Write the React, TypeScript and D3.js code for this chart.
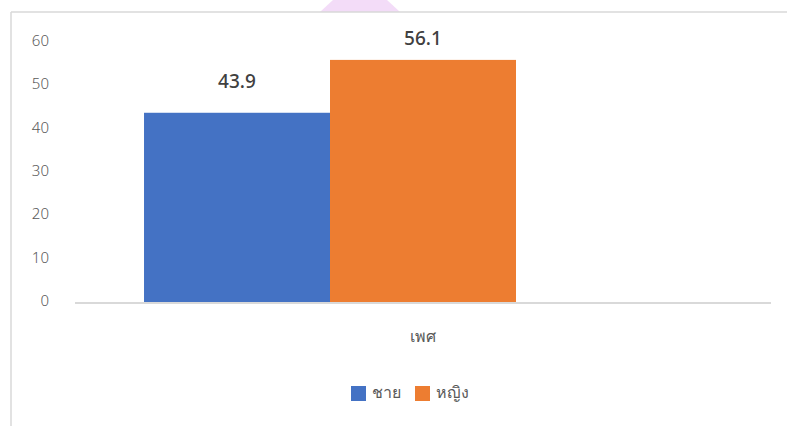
import React from 'react'
import * as d3 from 'd3'

// data
const categories = ['เพศ']
const seriesNames = ['ชาย', 'หญิง', '']
const seriesValues = [43.9, 56.1, null]
const seriesColors = ['#4472c4', '#ed7d31', '#a5a5a5']
const yTicks = [0, 10, 20, 30, 40, 50, 60]

const W = 787
const H = 426
const plot = {left: 75, right: 771, top: 43, bottom: 303}
const font = "'Noto Sans', 'DejaVu Sans', sans-serif"

export default function App() {
  const y = d3.scaleLinear().domain([0, 60]).range([plot.bottom, plot.top])
  const x0 = d3.scaleBand().domain(categories).range([plot.left, plot.right]).paddingInner(0).paddingOuter(0.1237)
  const x1 = d3.scaleBand().domain(seriesNames.map((d, i) => String(i))).range([0, x0.bandwidth()])

  const legendItems = seriesNames.filter(n => n !== '')
  const legendX = [351, 415]

  // outside-end label, pushed down when it would leave the chart top
  const labelY = (v: number) => Math.max(y(v) - 25, 45)

  return (
    <svg width={W} height={H} style={{position: 'absolute', left: 0, top: 0, background: '#fff'}}>
      {/* decoration peeking above the frame */}
      <path d="M333,0 L387,0 L400,12 L320,12 Z" fill="#f3dcf8" />
      {/* chart frame */}
      <line x1={11} x2={W} y1={12} y2={12} stroke="#d9d9d9" strokeWidth={1.5} />
      <line x1={11} x2={11} y1={12} y2={H} stroke="#d9d9d9" strokeWidth={1.5} />

      {/* y tick labels */}
      {yTicks.map(t => (
        <text key={t} x={49} y={y(t) - 3} textAnchor="end" dominantBaseline="central"
          fontFamily={font} fontSize={15} fontWeight={300} fill="#595959">{t}</text>
      ))}

      {/* bars */}
      {categories.map(c => (
        <g key={c} transform={`translate(${x0(c)},0)`}>
          {seriesValues.map((v, i) => v == null ? null : (
            <g key={i}>
              <rect x={x1(String(i))} y={y(v)} width={x1.bandwidth()} height={y(0) - y(v)} fill={seriesColors[i]} />
              <text x={(x1(String(i)) || 0) + x1.bandwidth() / 2} y={labelY(v)} textAnchor="middle"
                fontFamily={font} fontSize={19} fontWeight={500} fill="#404040">{v.toFixed(1)}</text>
            </g>
          ))}
        </g>
      ))}

      {/* baseline */}
      <line x1={plot.left} x2={plot.right} y1={y(0)} y2={y(0)} stroke="#d9d9d9" strokeWidth={2} />

      {/* category label */}
      {categories.map(c => (
        <text key={c} x={(x0(c) || 0) + x0.bandwidth() / 2} y={336} textAnchor="middle" dominantBaseline="central"
          fontFamily={font} fontSize={16} fill="#595959">{c}</text>
      ))}

      {/* legend */}
      {legendItems.map((n, i) => (
        <g key={n} transform={`translate(${legendX[i]},386)`}>
          <rect width={15} height={15} fill={seriesColors[i]} />
          <text x={21} y={6} dominantBaseline="central" fontFamily={font} fontSize={16} fill="#595959">{n}</text>
        </g>
      ))}
    </svg>
  )
}
